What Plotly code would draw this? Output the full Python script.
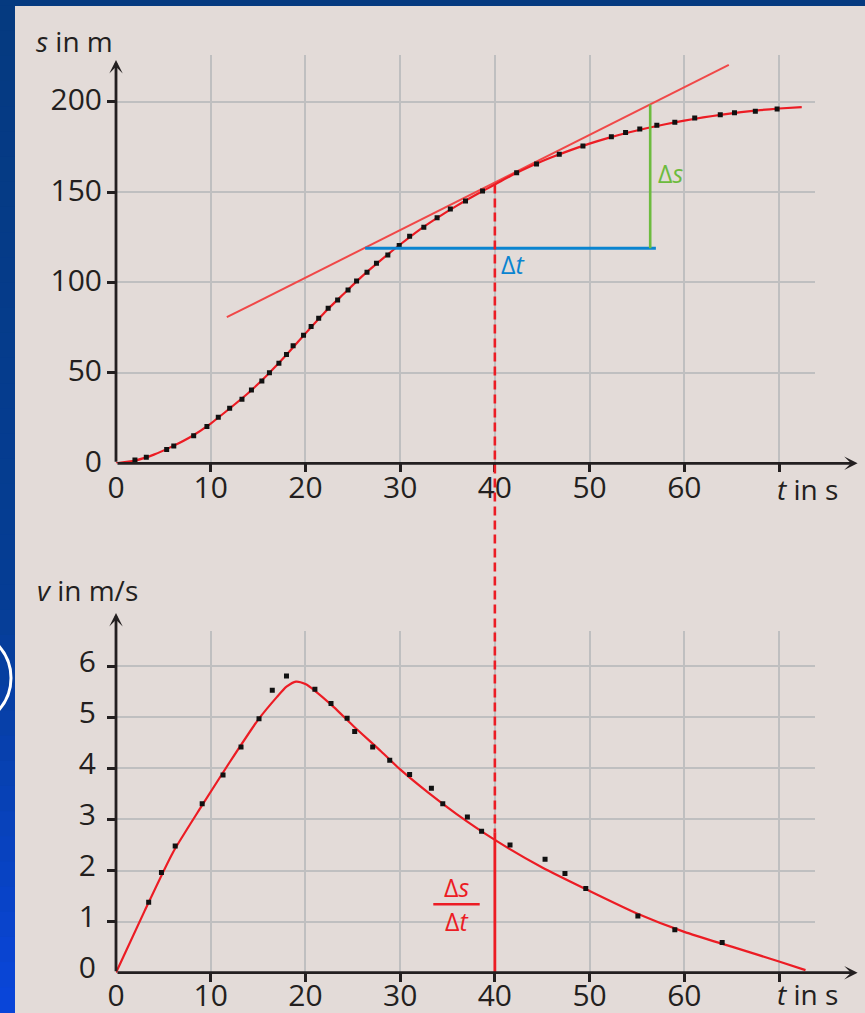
import plotly.graph_objects as go

# ---------------- data ----------------
# top chart: distance s (m) over time t (s)
s_pts_t = [2.0, 3.2, 5.35, 6.1, 8.2, 9.6, 10.8, 12.0, 13.3, 14.3, 15.4, 16.2, 17.2, 18.0, 18.7,
           19.8, 20.6, 21.4, 22.4, 23.4, 24.5, 25.4, 26.5, 27.5, 28.7, 29.9, 31.0, 32.5, 33.9,
           35.3, 36.9, 38.7, 42.3, 44.4, 46.8, 49.3, 52.3, 53.8, 55.3, 57.1, 59.0, 61.1, 63.8,
           65.3, 67.5, 69.8]
s_pts_s = [1.8, 3.3, 7.7, 9.6, 15.3, 20.3, 25.4, 30.4, 35.4, 40.5, 45.5, 50.1, 55.3, 60.1, 65.0,
           70.8, 75.6, 80.2, 85.7, 90.3, 95.9, 100.8, 105.6, 110.6, 115.2, 120.4, 125.6, 130.5, 135.8,
           140.6, 145.1, 150.6, 160.7, 165.5, 170.9, 175.5, 180.6, 182.9, 184.9, 186.9, 188.6, 191.0, 192.8,
           193.9, 194.7, 196.0]
s_curve_t = [0, 2, 4, 6, 8, 10, 12, 14, 16, 18, 20, 22, 24, 26, 28, 30, 32, 34, 36, 38, 40, 42, 44,
             46, 48, 50, 52, 54, 56, 58, 60, 62, 64, 66, 68, 70, 72.4]
s_curve_s = [0, 1.5, 4.8, 9.5, 15, 22, 30.3, 39, 49, 60, 71.8, 83.3, 93.5, 103.5, 112.5, 121, 129, 136,
             142.5, 148.5, 154.2, 159.8, 164.8, 169.2, 173.2, 176.8, 180, 182.8, 185.3, 187.5, 189.5,
             191.3, 192.8, 194.2, 195.3, 196.2, 197]
tangent_t = [11.7, 64.7]
tangent_s = [80.8, 220.3]
dt_t = [26.3, 57.0]
dt_s = [118.9, 118.9]
ds_t = [56.4, 56.4]
ds_s = [118.9, 198.4]
t_mark = 40
s_at_mark = 154.2

# bottom chart: speed v (m/s) over time t (s)
v_pts_t = [3.45, 4.8, 6.25, 9.1, 11.3, 13.2, 15.1, 16.5, 18.0, 21.0, 22.7, 24.4, 25.2, 27.1, 28.9,
           31.0, 33.3, 34.5, 37.1, 38.6, 41.6, 45.3, 47.4, 49.6, 55.1, 59.0, 64.0]
v_pts_v = [1.38, 1.96, 2.48, 3.31, 3.87, 4.42, 4.97, 5.53, 5.81, 5.55, 5.27, 4.98, 4.72, 4.42, 4.16,
           3.88, 3.61, 3.31, 3.05, 2.77, 2.50, 2.22, 1.94, 1.65, 1.11, 0.84, 0.59]
v_curve_t = [0, 3, 6, 9, 12, 15, 17, 18, 19, 20, 21, 23, 25, 28, 30, 33, 36, 40, 45, 50,
             55, 60, 65, 70, 72.8]
v_curve_v = [0, 1.2, 2.35, 3.25, 4.12, 4.95, 5.4, 5.6, 5.7, 5.65, 5.52, 5.2, 4.84, 4.33,
             3.98, 3.52, 3.1, 2.6, 2.06, 1.6, 1.16, 0.8, 0.51, 0.22, 0.05]
v_at_mark = 2.75

t_ticks = [0, 10, 20, 30, 40, 50, 60, 70]
t_labels = ['0', '10', '20', '30', '40', '50', '60', '']
s_ticks = [0, 50, 100, 150, 200]
s_labels = ['0', '50', '100', '150', '200']
v_ticks = [0, 1, 2, 3, 4, 5, 6]
v_labels = ['0', '1', '2', '3', '4', '5', '6']

# ---------------- style ----------------
W, H = 865, 1013
RED = '#ec1c24'
RED_LIGHT = '#f04848'
GRID = '#bfbfc0'
AXC = '#231f20'
BEIGE = '#e3dbd8'
BLUE = '#0a84d0'
GREEN = '#6dbb3e'
FONT = 'Open Sans'


def fx(p):
    return p / W


def fy(p):
    return 1 - p / H


X_DOM = [fx(116), fx(815)]
X_RANGE = [0, 73.8]
Y1_DOM = [fy(463.3), fy(55)]
Y1_RANGE = [0, 225.8]
Y2_DOM = [fy(972.7), fy(631)]
Y2_RANGE = [0, 6.69]

fig = go.Figure()

# top chart
fig.add_trace(go.Scatter(x=tangent_t, y=tangent_s, mode='lines',
                         line=dict(color=RED_LIGHT, width=2), xaxis='x', yaxis='y'))
fig.add_trace(go.Scatter(x=s_curve_t, y=s_curve_s, mode='lines',
                         line=dict(color=RED, width=2.2, shape='spline', smoothing=0.6),
                         xaxis='x', yaxis='y'))
fig.add_trace(go.Scatter(x=s_pts_t, y=s_pts_s, mode='markers',
                         marker=dict(symbol='square', size=5, color='#111111', line=dict(width=0)),
                         xaxis='x', yaxis='y'))
fig.add_trace(go.Scatter(x=dt_t, y=dt_s, mode='lines', line=dict(color=BLUE, width=3),
                         xaxis='x', yaxis='y'))
fig.add_trace(go.Scatter(x=ds_t, y=ds_s, mode='lines', line=dict(color=GREEN, width=2.6),
                         xaxis='x', yaxis='y'))

# bottom chart
fig.add_trace(go.Scatter(x=v_curve_t, y=v_curve_v, mode='lines',
                         line=dict(color=RED, width=2.2, shape='spline', smoothing=0.6),
                         xaxis='x2', yaxis='y2'))
fig.add_trace(go.Scatter(x=v_pts_t, y=v_pts_v, mode='markers',
                         marker=dict(symbol='square', size=5, color='#111111', line=dict(width=0)),
                         xaxis='x2', yaxis='y2'))
fig.add_trace(go.Scatter(x=[t_mark, t_mark], y=[0, v_at_mark], mode='lines',
                         line=dict(color=RED, width=2.8), xaxis='x2', yaxis='y2'))


def y_to_paper(val, dom, rng):
    return dom[0] + (val - rng[0]) / (rng[1] - rng[0]) * (dom[1] - dom[0])


shapes = []
# beige panel + blue frame
shapes.append(dict(type='rect', xref='paper', yref='paper', x0=fx(15), x1=1.0, y0=-0.01, y1=fy(6),
                   fillcolor=BEIGE, line=dict(width=0), layer='below'))
# left blue gradient strip (decorative)
top_c = (5, 58, 128)
mid_c = (6, 62, 150)
bot_c = (10, 70, 220)
n_bands = 40
for i in range(n_bands):
    y0p = 6 + i * (H - 6) / n_bands
    y1p = 6 + (i + 1) * (H - 6) / n_bands
    f = (i + 0.5) / n_bands
    if f < 0.6:
        g = f / 0.6
        c = tuple(int(top_c[k] + (mid_c[k] - top_c[k]) * g) for k in range(3))
    else:
        g = (f - 0.6) / 0.4
        c = tuple(int(mid_c[k] + (bot_c[k] - mid_c[k]) * g) for k in range(3))
    shapes.append(dict(type='rect', xref='paper', yref='paper', x0=0, x1=fx(15),
                       y0=fy(y1p) - 0.0005, y1=fy(y0p) + 0.0005,
                       fillcolor='rgb(%d,%d,%d)' % c, line=dict(width=0), layer='below'))
# white arc at the left edge
shapes.append(dict(type='circle', xref='paper', yref='paper', x0=fx(-85), x1=fx(11),
                   y0=fy(726), y1=fy(630), line=dict(color='white', width=3),
                   fillcolor='rgba(0,0,0,0)', layer='above'))
# dashed red connection t = 40
shapes.append(dict(type='line', xref='x', yref='paper', x0=t_mark, x1=t_mark,
                   y0=y_to_paper(s_at_mark, Y1_DOM, Y1_RANGE),
                   y1=y_to_paper(v_at_mark, Y2_DOM, Y2_RANGE),
                   line=dict(color=RED, width=2.6, dash='9px,5px'), layer='above'))
# fraction bar
shapes.append(dict(type='line', xref='x2', yref='y2', x0=33.5, x1=38.4, y0=1.34, y1=1.34,
                   line=dict(color=RED, width=2.6)))

annotations = []
arrow_common = dict(text='', showarrow=True, arrowhead=3, arrowsize=0.8, arrowwidth=2.8,
                    arrowcolor=AXC, standoff=0, startstandoff=0)
annotations.append(dict(xref='x', yref='y', axref='x', ayref='y', x=78.3, y=0, ax=0, ay=0, **arrow_common))
annotations.append(dict(xref='x', yref='y', axref='x', ayref='y', x=0, y=223, ax=0, ay=0, **arrow_common))
annotations.append(dict(xref='x2', yref='y2', axref='x2', ayref='y2', x=78.3, y=0, ax=0, ay=0, **arrow_common))
annotations.append(dict(xref='x2', yref='y2', axref='x2', ayref='y2', x=0, y=7.04, ax=0, ay=0, **arrow_common))

lab_font = dict(family=FONT, size=28, color=AXC)
annotations.append(dict(xref='paper', yref='paper', x=fx(34), y=fy(41), xanchor='left', yanchor='middle',
                        text='<i>s</i> in m', showarrow=False, font=lab_font))
annotations.append(dict(xref='paper', yref='paper', x=fx(35), y=fy(590), xanchor='left', yanchor='middle',
                        text='<i>v</i> in m/s', showarrow=False, font=lab_font))
annotations.append(dict(xref='paper', yref='paper', x=fx(807), y=fy(489), xanchor='center', yanchor='middle',
                        text='<i>t</i> in s', showarrow=False, font=lab_font))
annotations.append(dict(xref='paper', yref='paper', x=fx(807), y=fy(994), xanchor='center', yanchor='middle',
                        text='<i>t</i> in s', showarrow=False, font=lab_font))
annotations.append(dict(xref='x', yref='y', x=57.0, y=160.5, xanchor='left', yanchor='middle',
                        text='Δ<i>s</i>', showarrow=False, font=dict(family=FONT, size=25, color=GREEN)))
annotations.append(dict(xref='x', yref='y', x=40.4, y=110, xanchor='left', yanchor='middle',
                        text='Δ<i>t</i>', showarrow=False, font=dict(family=FONT, size=25, color=BLUE)))
annotations.append(dict(xref='x2', yref='y2', x=35.95, y=1.68, xanchor='center', yanchor='middle',
                        text='Δ<i>s</i>', showarrow=False, font=dict(family=FONT, size=25, color=RED)))
annotations.append(dict(xref='x2', yref='y2', x=35.95, y=1.02, xanchor='center', yanchor='middle',
                        text='Δ<i>t</i>', showarrow=False, font=dict(family=FONT, size=25, color=RED)))

tick_font = dict(family=FONT, size=30, color=AXC)


def xaxis_cfg(anchor, standoff):
    return dict(domain=X_DOM, range=X_RANGE, anchor=anchor, tickmode='array', tickvals=t_ticks,
                ticktext=t_labels, ticks='', showgrid=True, gridcolor=GRID, gridwidth=2.2,
                zeroline=False, showline=False, tickfont=tick_font, ticklabelstandoff=standoff,
                minor=dict(tickmode='array', tickvals=t_ticks[1:], ticks='outside', ticklen=8,
                           tickwidth=3, tickcolor=AXC, showgrid=False),
                fixedrange=True)


fig.update_layout(
    width=W, height=H,
    margin=dict(l=0, r=0, t=0, b=0, autoexpand=False),
    paper_bgcolor='rgb(5,58,128)',
    plot_bgcolor='rgba(0,0,0,0)',
    showlegend=False,
    xaxis=xaxis_cfg('y', 4),
    xaxis2=xaxis_cfg('y2', 2),
    yaxis=dict(domain=Y1_DOM, range=Y1_RANGE, anchor='x', tickmode='array', tickvals=s_ticks,
               ticktext=s_labels, ticks='', showgrid=True, gridcolor=GRID, gridwidth=2.2,
               zeroline=False, showline=False, tickfont=tick_font, ticklabelstandoff=13,
               ticklabelshift=-2,
               minor=dict(tickmode='array', tickvals=s_ticks[1:], ticks='outside', ticklen=8,
                          tickwidth=3, tickcolor=AXC, showgrid=False),
               fixedrange=True),
    yaxis2=dict(domain=Y2_DOM, range=Y2_RANGE, anchor='x2', tickmode='array', tickvals=v_ticks,
                ticktext=v_labels, ticks='', showgrid=True, gridcolor=GRID, gridwidth=2.2,
                zeroline=False, showline=False, tickfont=tick_font, ticklabelstandoff=19,
                ticklabelshift=-5,
                minor=dict(tickmode='array', tickvals=v_ticks[1:], ticks='outside', ticklen=8,
                           tickwidth=3, tickcolor=AXC, showgrid=False),
                fixedrange=True),
    shapes=shapes,
    annotations=annotations,
)

fig.write_html('out.html', config={'displayModeBar': False})
